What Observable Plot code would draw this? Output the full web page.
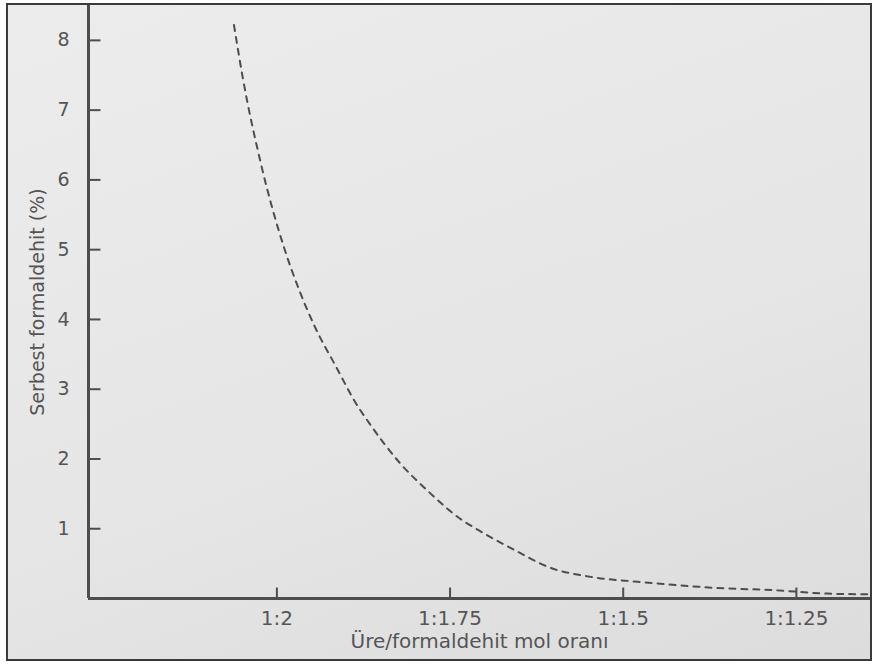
<!DOCTYPE html>
<html>
<head>
<meta charset="utf-8">
<script src="https://cdn.jsdelivr.net/npm/d3@7"></script>
<script src="https://cdn.jsdelivr.net/npm/@observablehq/plot@0.6"></script>
<style>
  html, body { margin: 0; padding: 0; background: #fff; }
  #wrap { position: relative; width: 874px; height: 664px; overflow: hidden; }
  #paper { position: absolute; left: 6px; top: 3px; width: 862px; height: 654px;
           border: 2px solid #3a3a3a;
           background: linear-gradient(160deg, #ececec 0%, #e6e6e6 55%, #dcdcdc 100%); }
  #chart { position: absolute; left: 0; top: 0; }
</style>
</head>
<body>
<div id="wrap"><div id="paper"></div><div id="chart"></div></div>
<script>
// Formaldehyde/urea mole ratio (x axis shows "1:<ratio>")
const xTicks = [2, 1.75, 1.5, 1.25];
const xTickLabels = ["1:2", "1:1.75", "1:1.5", "1:1.25"];
const yTicks = [1, 2, 3, 4, 5, 6, 7, 8];

// Dashed curve: free formaldehyde (%) vs mole ratio
const ratio = [2.062, 2.049, 2.023, 1.990, 1.967, 1.944, 1.915, 1.886, 1.865, 1.824,
               1.782, 1.735, 1.709, 1.658, 1.605, 1.547, 1.479, 1.421, 1.363, 1.284, 1.205, 1.146];
const freeFormaldehyde = [8.22, 7.45, 6.23, 5.04, 4.40, 3.87, 3.33, 2.80, 2.49, 1.96,
               1.54, 1.14, 0.98, 0.70, 0.44, 0.31, 0.24, 0.19, 0.15, 0.12, 0.07, 0.06];

const xStart = 2.272, xEnd = 1.143, yTop = 8.5;
const curve = ratio.map((r, i) => ({ratio: r, free: freeFormaldehyde[i]}));
const ink = "#4d4d4d";

const chart = Plot.plot({
  width: 874,
  height: 664,
  marginLeft: 88,
  marginRight: 4,
  marginTop: 5,
  marginBottom: 66,
  style: {background: "transparent", fontFamily: "DejaVu Sans", fontSize: "19px", color: "#555"},
  x: {domain: [xStart, xEnd]},
  y: {domain: [0, yTop]},
  marks: [
    Plot.axisY(yTicks, {tickSize: 0, tickPadding: 19, fontSize: 19, tickFormat: d => String(d),
      label: null}),
    Plot.axisY({ticks: [], tickSize: 0, fontSize: 19,
      label: "Serbest formaldehit (%)", labelAnchor: "center", labelArrow: "none", labelOffset: 58}),
    Plot.axisX(xTicks, {tickSize: 0, tickPadding: 12, fontSize: 20,
      tickFormat: d => xTickLabels[xTicks.indexOf(d)], label: null}),
    Plot.axisX({ticks: [], tickSize: 0, fontSize: 20,
      label: "Üre/formaldehit mol oranı", labelAnchor: "center", labelArrow: "none", labelOffset: 49}),
    Plot.ruleY(yTicks, {x1: xStart, x2: xStart - 0.018, stroke: ink, strokeWidth: 2}),
    Plot.ruleX(xTicks, {y1: 0, y2: 0.15, stroke: ink, strokeWidth: 2}),
    Plot.ruleX([xStart], {y1: 0, y2: yTop, stroke: ink, strokeWidth: 3}),
    Plot.ruleY([0], {x1: xStart, x2: xEnd, stroke: ink, strokeWidth: 3}),
    Plot.line(curve, {x: "ratio", y: "free", curve: "monotone-x", stroke: ink,
      strokeWidth: 2, strokeDasharray: "6,6"})
  ]
});
document.getElementById("chart").appendChild(chart);
</script>
</body>
</html>
